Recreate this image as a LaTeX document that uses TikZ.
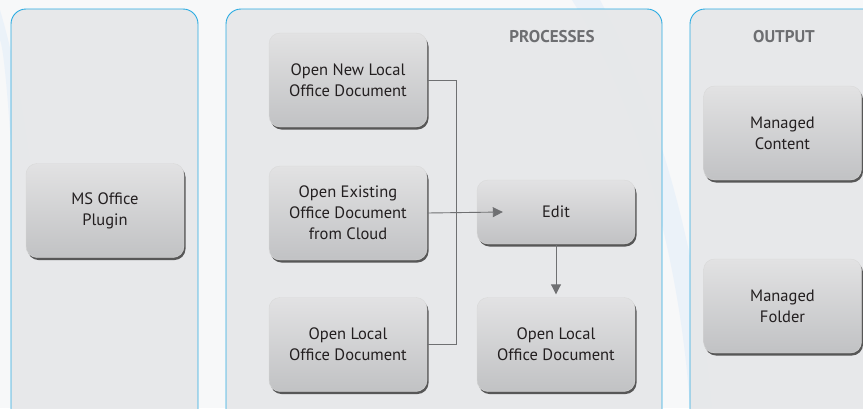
\documentclass[tikz,border=0pt]{standalone}
\usepackage{fontspec}
\setmainfont{PT Sans}
\usetikzlibrary{shadows,arrows.meta}

\definecolor{pagebg}{HTML}{F7F8F9}
\definecolor{swoosh}{HTML}{EBF2F9}
\definecolor{panelfill}{HTML}{E6E7E9}
\definecolor{panelline}{HTML}{29ABE2}
\definecolor{boxtop}{HTML}{E2E2E3}
\definecolor{boxbottom}{HTML}{C1C2C4}
\definecolor{linkgray}{HTML}{6F7072}
\definecolor{titlegray}{HTML}{6D6E71}
\definecolor{textdark}{HTML}{231F20}

\tikzset{
  panel/.style={draw=panelline, line width=0.9pt, fill=panelfill,
    fill opacity=0.9, rounded corners=15pt},
  procbox/.style={rounded corners=11pt, draw=gray!30, line width=0.4pt,
    top color=boxtop, bottom color=boxbottom, text=textdark,
    minimum width=158pt, minimum height=94pt, align=center,
    font=\fontsize{16.5}{21}\selectfont,
    drop shadow={shadow xshift=1.5pt, shadow yshift=-2.5pt,
      fill=black!80, opacity=0.8}},
  heading/.style={font=\bfseries\fontsize{17}{18}\selectfont, text=titlegray},
  link/.style={draw=linkgray, line width=0.9pt},
  flow/.style={link, -{Triangle[length=10pt,width=10pt]}}
}

\begin{document}
\begin{tikzpicture}[x=1pt,y=-1pt]
\useasboundingbox (0,0) rectangle (863,408);
\clip (0,0) rectangle (863,408);
\fill[pagebg] (0,0) rectangle (863,408);

% faint background swooshes
\fill[swoosh] (0,10) .. controls (12,50) and (22,100) .. (30,160)
  -- (12,160) .. controls (8,100) and (4,50) .. (0,40) -- cycle;
\fill[swoosh] (600,0) .. controls (660,110) and (700,260) .. (712,408)
  -- (690,408) .. controls (680,260) and (640,110) .. (572,0) -- cycle;

% Columns
\draw[panel] (11,9) rectangle (198,430);
\draw[panel] (226,9) rectangle (662,430);
\draw[panel] (690,9) rectangle (890,430);

\node[heading] (proctitle) at (552,37) {PROCESSES};
\node[heading] (outtitle) at (784,37) {OUTPUT};

% Input
\node[procbox] (plugin) at (105,210.5) {MS Office\\Plugin};

% Processes
\node[procbox] (newdoc) at (348,80) {Open New Local\\Office Document};
\node[procbox] (clouddoc) at (348,213) {Open Existing\\Office Document\\from Cloud};
\node[procbox] (localdoc) at (348,344.5) {Open Local\\Office Document};
\node[procbox, minimum height=64pt] (edit) at (556,212) {Edit};
\node[procbox] (savedoc) at (556,344.5) {Open Local\\Office Document};

% Output
\node[procbox] (content) at (782.5,133) {Managed\\Content};
\node[procbox] (folder) at (782.5,306) {Managed\\Folder};

% Connectors
\draw[link] (newdoc.east) -- ++(29,0) |- (localdoc.east);
\draw[flow] (clouddoc.east) -- ([xshift=26pt]edit.west);
\draw[flow] (edit.south) -- ([yshift=3pt]savedoc.north);
\end{tikzpicture}
\end{document}
